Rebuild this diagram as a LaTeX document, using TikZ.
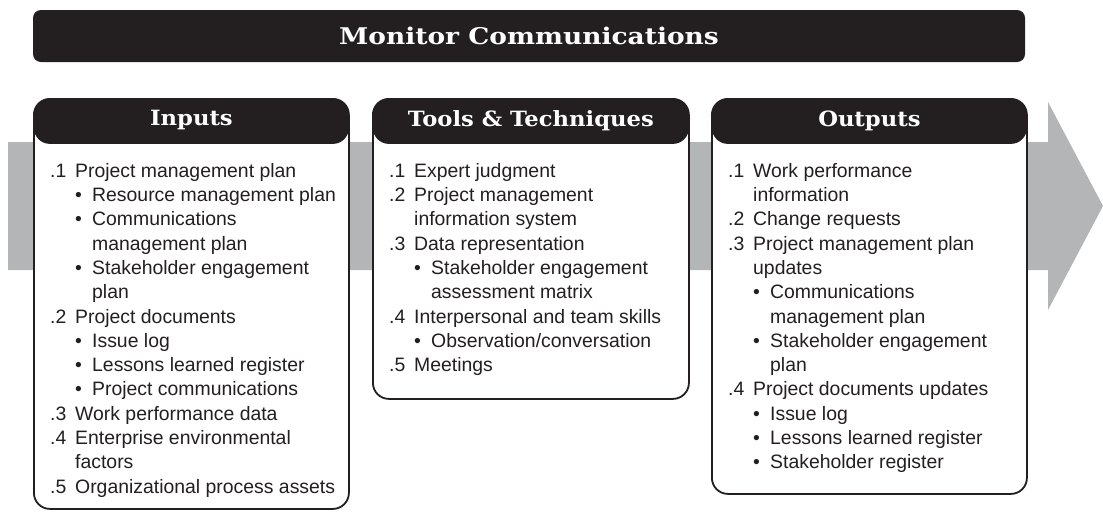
\documentclass[tikz,border=0pt]{standalone}
\usepackage{fontspec}
\setmainfont{Liberation Sans}
\newfontfamily\slabfont{DejaVu Serif}[FakeStretch=1.08]
\newfontfamily\titlefont{DejaVu Serif}[FakeStretch=1.15]
\definecolor{ink}{HTML}{231F20}
\definecolor{band}{HTML}{B4B5B7}
\newcommand{\itm}[2]{\makebox[25pt][l]{#1}#2}
\newcommand{\bul}[1]{\hspace*{25pt}\makebox[17pt][l]{\textbullet}#1}
\newcommand{\icont}[1]{\hspace*{25pt}#1}
\newcommand{\bcont}[1]{\hspace*{42pt}#1}
\tikzset{
  panel/.style={draw=ink, line width=1.8pt, fill=white, rounded corners=16pt,
    inner sep=0pt, anchor=north west,
    path picture={\fill[ink] (path picture bounding box.north west) rectangle
      ([yshift=-45pt]path picture bounding box.north east);}},
  headtext/.style={text=white, inner sep=0pt, font=\slabfont\bfseries\fontsize{21}{24}\selectfont},
  titlebar/.style={fill=ink, rounded corners=8pt, minimum width=992pt, minimum height=52pt,
    inner sep=0pt, text=white, font=\titlefont\bfseries\fontsize{23}{26}\selectfont},
  body/.style={anchor=north west, inner sep=0pt, align=left, text=ink,
    font=\fontsize{19.4}{24.3}\selectfont},
}
\begin{document}
\begin{tikzpicture}[x=1pt,y=-1pt]
\useasboundingbox (0,0) rectangle (1103,512);
% background arrow
\fill[band] (8,142) -- (1048,142) -- (1048,102) -- (1103,206) -- (1048,310)
  -- (1048,270) -- (8,270) -- cycle;
% title
\node[titlebar] (title) at (529,36) {Monitor Communications};
% panels
\node[panel, minimum width=315pt, minimum height=410pt] (inbox) at (33,98) {};
\node[panel, minimum width=316pt, minimum height=300pt] (toolbox) at (372,98) {};
\node[panel, minimum width=315pt, minimum height=395pt] (outbox) at (711,98) {};
% headers
\node[headtext] (inhead) at ([yshift=-22.5pt]inbox.north) {Inputs};
\node[headtext] (toolhead) at ([yshift=-22.5pt]toolbox.north) {Tools \& Techniques};
\node[headtext] (outhead) at ([yshift=-22.5pt]outbox.north) {Outputs};
% contents
\node[body] (intext) at ([xshift=17pt,yshift=-62pt]inbox.north west) {%
\strut\itm{.1}{Project management plan}\\
\bul{Resource management plan}\\
\bul{Communications}\\
\bcont{management plan}\\
\bul{Stakeholder engagement}\\
\bcont{plan}\\
\itm{.2}{Project documents}\\
\bul{Issue log}\\
\bul{Lessons learned register}\\
\bul{Project communications}\\
\itm{.3}{Work performance data}\\
\itm{.4}{Enterprise environmental}\\
\icont{factors}\\
\itm{.5}{Organizational process assets}};
\node[body] (tooltext) at ([xshift=17pt,yshift=-62pt]toolbox.north west) {%
\strut\itm{.1}{Expert judgment}\\
\itm{.2}{Project management}\\
\icont{information system}\\
\itm{.3}{Data representation}\\
\bul{Stakeholder engagement}\\
\bcont{assessment matrix}\\
\itm{.4}{Interpersonal and team skills}\\
\bul{Observation/conversation}\\
\itm{.5}{Meetings}};
\node[body] (outtext) at ([xshift=17pt,yshift=-62pt]outbox.north west) {%
\strut\itm{.1}{Work performance}\\
\icont{information}\\
\itm{.2}{Change requests}\\
\itm{.3}{Project management plan}\\
\icont{updates}\\
\bul{Communications}\\
\bcont{management plan}\\
\bul{Stakeholder engagement}\\
\bcont{plan}\\
\itm{.4}{Project documents updates}\\
\bul{Issue log}\\
\bul{Lessons learned register}\\
\bul{Stakeholder register}};
\end{tikzpicture}
\end{document}
